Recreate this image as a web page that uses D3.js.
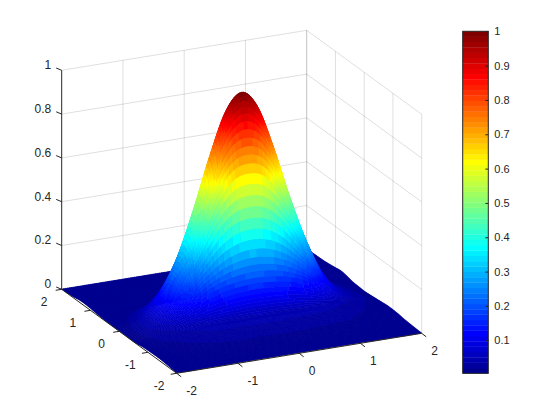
<!DOCTYPE html>
<html>
<head>
<meta charset="utf-8">
<script src="https://cdn.jsdelivr.net/npm/d3@7"></script>
<style>
    html, body { margin: 0; background: #fff; }
    svg { display: block; font-family: "Liberation Sans", Arial, sans-serif; }
</style>
</head>
<body>
<svg id="chart" width="560" height="420"></svg>
<script>
// Grid the surface was read on
const xVals = [-2, -1.75, -1.5, -1.25, -1, -0.75, -0.5, -0.25, 0, 0.25, 0.5, 0.75, 1, 1.25, 1.5, 1.75, 2];
const yVals = [2, 1.8, 1.6, 1.4, 1.2, 1, 0.8, 0.6, 0.4, 0.2, 0, -0.2, -0.4, -0.6, -0.8, -1, -1.2, -1.4, -1.6, -1.8, -2];
// Heights, one row per yVals entry, one column per xVals entry
const zRows = [
    [.001,.001,.001,.001,.001,.001,.001,.001,.001,.001,.001,.001,.001,.001,.001,.001,.001],
    [.002,.002,.002,.002,.002,.002,.002,.002,.002,.002,.002,.002,.002,.002,.002,.002,.003],
    [.005,.003,.003,.003,.003,.003,.003,.003,.003,.003,.003,.003,.003,.003,.003,.003,.004],
    [.010,.004,.003,.003,.003,.003,.003,.003,.003,.003,.003,.003,.003,.003,.003,.003,.005],
    [.011,.004,.004,.003,.003,.004,.003,.004,.004,.003,.004,.003,.003,.004,.003,.004,.008],
    [.009,.005,.004,.004,.004,.004,.005,.005,.005,.005,.005,.004,.004,.004,.004,.005,.012],
    [.006,.004,.004,.005,.006,.006,.007,.008,.009,.008,.007,.006,.006,.005,.004,.005,.016],
    [.003,.006,.012,.020,.032,.042,.052,.058,.060,.058,.052,.042,.032,.020,.012,.006,.012],
    [.002,.012,.032,.070,.128,.190,.242,.274,.284,.274,.242,.190,.128,.068,.030,.012,.005],
    [.002,.020,.054,.124,.246,.416,.592,.700,.730,.700,.592,.416,.246,.118,.044,.018,.003],
    [.002,.028,.068,.152,.295,.504,.737,.928,1.00,.928,.737,.504,.295,.140,.052,.021,.001],
    [.002,.031,.069,.142,.264,.430,.599,.705,.732,.705,.599,.430,.264,.122,.050,.024,.003],
    [.001,.030,.054,.096,.150,.207,.250,.274,.282,.274,.250,.207,.150,.086,.045,.025,.006],
    [.002,.022,.032,.044,.054,.062,.066,.069,.070,.069,.066,.062,.054,.043,.030,.018,.009],
    [.007,.018,.024,.030,.037,.041,.042,.043,.044,.043,.042,.040,.036,.032,.024,.016,.012],
    [.009,.013,.018,.023,.027,.031,.030,.030,.031,.030,.030,.029,.027,.024,.018,.013,.012],
    [.010,.010,.013,.017,.020,.022,.023,.022,.022,.023,.022,.021,.020,.018,.013,.010,.010],
    [.010,.007,.009,.011,.014,.015,.016,.015,.015,.016,.015,.015,.014,.012,.009,.007,.006],
    [.008,.005,.006,.008,.009,.010,.010,.011,.010,.009,.010,.010,.009,.008,.006,.005,.004],
    [.005,.003,.004,.005,.005,.006,.006,.006,.006,.006,.006,.006,.005,.005,.004,.003,.002],
    [.002,.001,.002,.002,.003,.003,.003,.003,.003,.003,.003,.003,.003,.002,.002,.001,.001]
];
const xTicks = [-2, -1, 0, 1, 2];
const yTicks = [-2, -1, 0, 1, 2];
const zTicks = [0, 0.2, 0.4, 0.6, 0.8, 1];
const cbarTicks = [0.1, 0.2, 0.3, 0.4, 0.5, 0.6, 0.7, 0.8, 0.9, 1];
const cLimits = [0.0036, 1];
// jet colormap anchors
const jetStops = [0, 0.111, 0.365, 0.619, 0.873, 1];
const jetColors = ['#00008f', '#0000ff', '#00ffff', '#ffff00', '#ff0000', '#800000'];
const nColors = 64;

const svg = d3.select('#chart');
const ink = '#262626';

// Oblique projection: each data axis moves the pixel along its own direction
const originX = 176.7, originY = 373.3;
const xToPx = d3.scaleLinear().domain([-2, 2]).range([0, 245]);
const xToPy = d3.scaleLinear().domain([-2, 2]).range([0, -40]);
const yToPx = d3.scaleLinear().domain([-2, 2]).range([0, -115]);
const yToPy = d3.scaleLinear().domain([-2, 2]).range([0, -84]);
const zToPy = d3.scaleLinear().domain([0, 1]).range([0, -219]);

function project(x, y, z) {
    return [originX + xToPx(x) + yToPx(y), originY + xToPy(x) + yToPy(y) + zToPy(z)];
}

// Band colours
const jet = d3.scaleLinear().domain(jetStops).range(jetColors).interpolate(d3.interpolateRgb);
const bandColors = d3.range(nColors).map(i => jet(i / (nColors - 1)));
const band = d3.scaleQuantize().domain(cLimits).range(bandColors);

// Back walls
const wallGrid = svg.append('g').attr('fill', 'none').attr('stroke', ink).attr('stroke-opacity', 0.15);
function gridLine(a, b) {
    wallGrid.append('path').attr('d', d3.line()([project(...a), project(...b)]));
}
zTicks.forEach(z => {
    gridLine([-2, 2, z], [2, 2, z]);
    gridLine([2, 2, z], [2, -2, z]);
});
xTicks.slice(1).forEach(x => gridLine([x, 2, 0], [x, 2, 1]));
yTicks.forEach(y => gridLine([2, y, 0], [2, y, 1]));

// Smooth the read grid for drawing only, the values stay as read
function catmull(p0, p1, p2, p3, t) {
    return 0.5 * (2 * p1 + (p2 - p0) * t + (2 * p0 - 5 * p1 + 4 * p2 - p3) * t * t + (3 * p1 - p0 - 3 * p2 + p3) * t * t * t);
}
function sampleRow(row, u) {
    const i = Math.min(Math.floor(u), row.length - 2), t = u - i;
    return catmull(row[Math.max(i - 1, 0)], row[i], row[i + 1], row[Math.min(i + 2, row.length - 1)], t);
}
const stepsX = 8, stepsY = 10;
const fineCols = (xVals.length - 1) * stepsX + 1;
const fineRows = (yVals.length - 1) * stepsY + 1;
const fine = d3.range(fineRows).map(r => {
    const v = r / stepsY;
    const j = Math.min(Math.floor(v), yVals.length - 2), t = v - j;
    return d3.range(fineCols).map(c => {
        const u = c / stepsX;
        const a = sampleRow(zRows[Math.max(j - 1, 0)], u);
        const b = sampleRow(zRows[j], u);
        const d = sampleRow(zRows[j + 1], u);
        const e = sampleRow(zRows[Math.min(j + 2, yVals.length - 1)], u);
        return Math.max(catmull(a, b, d, e, t), 0);
    });
});
const fx = d3.scaleLinear().domain([0, fineCols - 1]).range([xVals[0], xVals[xVals.length - 1]]);
const fy = d3.scaleLinear().domain([0, fineRows - 1]).range([yVals[0], yVals[yVals.length - 1]]);

// Painter's order: far row first, far column first. Runs of one colour share a path
const line = d3.line();
const runs = [];
for (let r = 0; r < fineRows - 1; r++) {
    let run = null;
    for (let c = fineCols - 2; c >= 0; c--) {
        const mean = (fine[r][c] + fine[r][c + 1] + fine[r + 1][c] + fine[r + 1][c + 1]) / 4;
        const color = band(mean);
        const quad = [
            project(fx(c), fy(r), fine[r][c]),
            project(fx(c + 1), fy(r), fine[r][c + 1]),
            project(fx(c + 1), fy(r + 1), fine[r + 1][c + 1]),
            project(fx(c), fy(r + 1), fine[r + 1][c])
        ];
        if (run && run.color === color) {
            run.d += line(quad) + 'Z';
        } else {
            run = { color: color, d: line(quad) + 'Z' };
            runs.push(run);
        }
    }
}
svg.append('g').selectAll('path').data(runs).join('path')
    .attr('d', d => d.d)
    .attr('fill', d => d.color)
    .attr('stroke', d => d.color)
    .attr('stroke-width', 0.5)
    .attr('stroke-linejoin', 'round');

// Rulers
const rulers = svg.append('g').attr('fill', 'none').attr('stroke', ink);
function ruler(a, b) {
    rulers.append('path').attr('d', line([project(...a), project(...b)]));
}
ruler([-2, 2, 0], [-2, 2, 1]);
ruler([-2, 2, 0], [-2, -2, 0]);
ruler([-2, -2, 0], [2, -2, 0]);

function tick(p, dx, dy) {
    rulers.append('path').attr('d', line([p, [p[0] + dx, p[1] + dy]]));
}
function label(text, px, py, anchor, size) {
    svg.append('text').attr('x', px).attr('y', py).attr('dy', '0.36em')
        .attr('text-anchor', anchor).attr('font-size', size).attr('fill', ink)
        .text(text);
}
zTicks.forEach(z => {
    const p = project(-2, 2, z);
    tick(p, -5.5, -2.3);
    label(String(z), p[0] - 10.5, p[1] - 5.5, 'end', 12);
});
xTicks.forEach(x => {
    const p = project(x, -2, 0);
    tick(p, 4.5, 3.5);
    label(String(x), p[0] + (x < 0 ? 15 : 13), p[1] + 17.6, 'middle', 12);
});
yTicks.forEach(y => {
    const p = project(-2, y, 0);
    tick(p, -6, 1);
    label(String(y), p[0] - 17.5, p[1] + 12.7, 'middle', 12);
});

// Colorbar
const cbarLeft = 462.7, cbarWidth = 25.6;
const cbarY = d3.scaleLinear().domain(cLimits).range([373.3, 31.3]);
const cbarBands = d3.range(nColors);
const bandH = (cbarY(cLimits[0]) - cbarY(cLimits[1])) / nColors;
svg.append('g').selectAll('rect').data(cbarBands).join('rect')
    .attr('x', cbarLeft)
    .attr('y', i => cbarY(cLimits[0]) - (i + 1) * bandH)
    .attr('width', cbarWidth)
    .attr('height', bandH + 0.3)
    .attr('fill', i => bandColors[i]);
const cbarAxis = svg.append('g')
    .attr('transform', `translate(${cbarLeft + cbarWidth},0)`)
    .call(d3.axisRight(cbarY).tickValues(cbarTicks).tickSizeInner(-3).tickSizeOuter(0).tickPadding(6)
        .tickFormat(d => String(d)));
cbarAxis.selectAll('text').attr('font-size', 11).attr('fill', ink).attr('font-family', null);
cbarAxis.selectAll('line').attr('stroke', ink);
cbarAxis.select('.domain').remove();
svg.append('rect')
    .attr('x', cbarLeft).attr('y', cbarY(cLimits[1]))
    .attr('width', cbarWidth).attr('height', cbarY(cLimits[0]) - cbarY(cLimits[1]))
    .attr('fill', 'none').attr('stroke', ink);
</script>
</body>
</html>
